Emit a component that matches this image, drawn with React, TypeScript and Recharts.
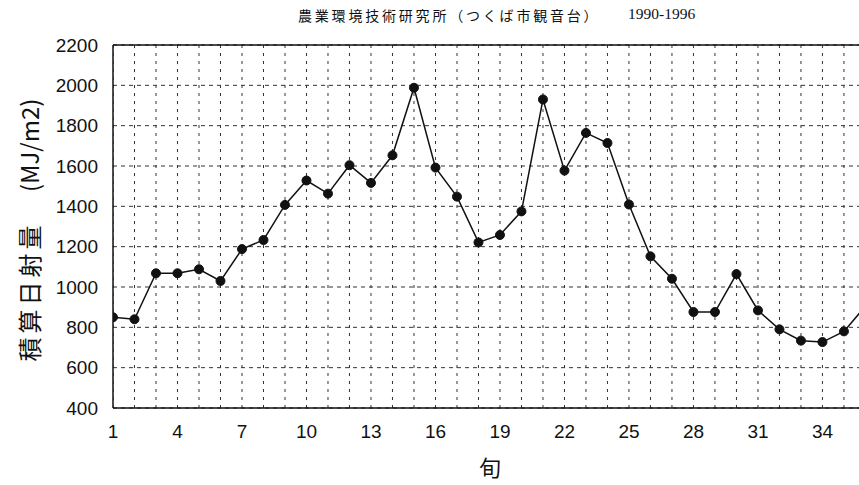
import React from 'react';
import {
  LineChart,
  Line,
  XAxis,
  YAxis,
  CartesianGrid,
  ReferenceLine,
} from 'recharts';

// 旬 (10-day periods) 1..36
const periods = [
  1, 2, 3, 4, 5, 6, 7, 8, 9, 10, 11, 12, 13, 14, 15, 16, 17, 18,
  19, 20, 21, 22, 23, 24, 25, 26, 27, 28, 29, 30, 31, 32, 33, 34, 35, 36,
];

const radiation = [
  850, 840, 1068, 1068, 1088, 1030, 1188, 1233, 1407, 1528, 1463, 1604,
  1516, 1653, 1988, 1592, 1448, 1221, 1258, 1375, 1930, 1577, 1764, 1714,
  1409, 1152, 1041, 876, 876, 1064, 884, 790, 734, 727, 780, 905,
];

const xTicks = [1, 4, 7, 10, 13, 16, 19, 22, 25, 28, 31, 34];
const yTicks = [400, 600, 800, 1000, 1200, 1400, 1600, 1800, 2000, 2200];

const data = periods.map((p, i) => ({ period: p, value: radiation[i] }));

const TITLE_JP = '農業環境技術研究所（つくば市観音台）';
const TITLE_YEARS = '1990-1996';

const tickStyle = { fontFamily: 'Liberation Sans, Arial, sans-serif', fontSize: 19, fill: '#111' };

const YLabel = () => (
  <text
    x={28}
    y={230}
    transform="rotate(-90 28 230)"
    textAnchor="middle"
    dominantBaseline="central"
    style={{ fontFamily: '"Noto Sans CJK JP", sans-serif', fontSize: 24, fill: '#111' }}
  >
    <tspan style={{ letterSpacing: 4 }}>積算日射量</tspan>
    <tspan>{'　 (MJ/m2)'}</tspan>
  </text>
);

const XLabel = () => (
  <text
    x={490}
    y={466}
    textAnchor="middle"
    dominantBaseline="central"
    style={{ fontFamily: '"Noto Sans CJK JP", sans-serif', fontSize: 22, fill: '#111' }}
  >
    旬
  </text>
);

export default function App() {
  return (
    <div style={{ position: 'absolute', left: 0, top: 0, width: 859, height: 485, background: '#fff' }}>
      <div
        style={{
          position: 'absolute',
          left: 298,
          top: 5,
          fontSize: 14,
          letterSpacing: 2.8,
          color: '#111',
          whiteSpace: 'nowrap',
          fontFamily: '"Noto Sans CJK JP", serif',
        }}
      >
        {TITLE_JP}
      </div>
      <div
        style={{
          position: 'absolute',
          left: 628,
          top: 5,
          fontSize: 15.5,
          color: '#111',
          whiteSpace: 'nowrap',
          fontFamily: '"Liberation Serif", serif',
        }}
      >
        {TITLE_YEARS}
      </div>
      <LineChart width={859} height={485} data={data} margin={{ top: 45, right: 0, bottom: 0, left: 0 }}>
        <CartesianGrid vertical={false} stroke="#333" strokeDasharray="4 4" strokeWidth={1} />
        {periods.map((p) => (
          <ReferenceLine key={p} x={p} stroke="#333" strokeDasharray="3 5" strokeWidth={1} ifOverflow="hidden" />
        ))}
        <ReferenceLine y={2200} stroke="#111" strokeWidth={1.5} />
        <XAxis
          dataKey="period"
          type="number"
          domain={[1, 35.7]}
          allowDataOverflow
          ticks={xTicks}
          interval={0}
          height={77}
          tickLine={false}
          tickMargin={11}
          tick={tickStyle}
          stroke="#111"
          strokeWidth={1.5}
          label={<XLabel />}
        />
        <YAxis
          type="number"
          domain={[400, 2200]}
          ticks={yTicks}
          interval={0}
          width={113}
          tickLine={false}
          tickMargin={9}
          tick={tickStyle}
          stroke="#111"
          strokeWidth={1.5}
          label={<YLabel />}
        />
        <Line
          type="linear"
          dataKey="value"
          stroke="#111"
          strokeWidth={1.5}
          dot={{ r: 4.5, fill: '#111', stroke: '#111', strokeWidth: 1 }}
          isAnimationActive={false}
        />
      </LineChart>
    </div>
  );
}
